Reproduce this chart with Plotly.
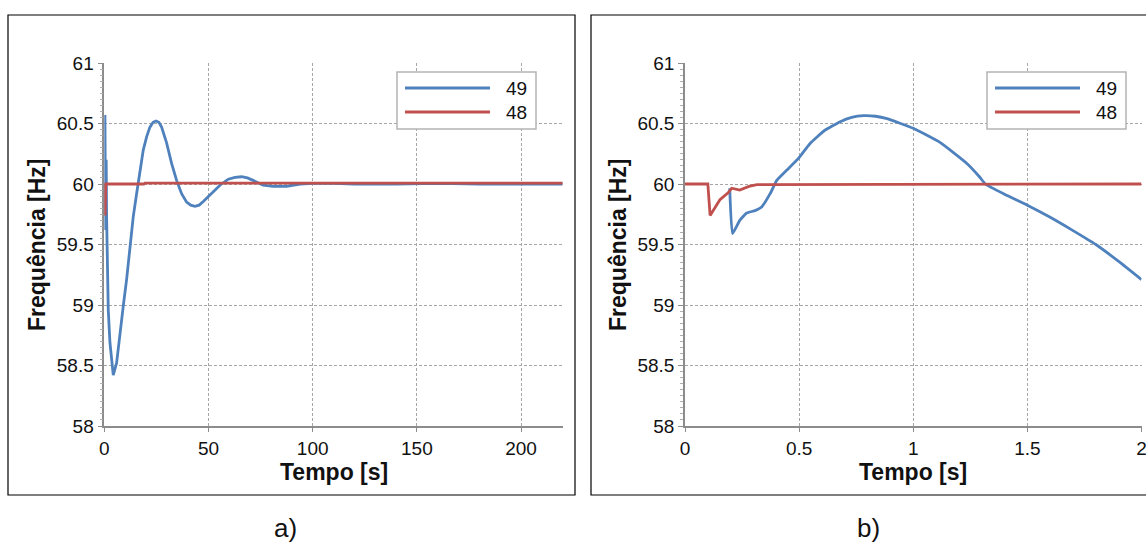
import plotly.graph_objects as go

W, H = 1146, 543

# ---------------- data ----------------
# Panel a) : 0-220 s
t49_a = [0, 0.3, 0.6, 0.9, 1.1, 1.9, 2.7, 3.5, 4.3, 5.9, 7.5, 9.1, 10.7, 12.3, 13.9,
         15.5, 17.1, 18.7, 20.3, 21.9, 23.4, 24.8, 26.2, 27.5, 29.9, 32.3, 34.7,
         37.1, 39.5, 41.5, 43.5, 45.5, 47.5, 51.5, 55.5, 59.5, 62.7, 65.9, 68.7,
         71.4, 76.2, 81.0, 87.4, 94, 100, 110, 120, 140, 160, 180, 200, 220]
f49_a = [60.0, 60.57, 59.62, 60.2, 59.74, 58.96, 58.69, 58.52, 58.42, 58.52, 58.77,
         58.99, 59.21, 59.48, 59.73, 59.92, 60.115, 60.28, 60.39, 60.47, 60.51, 60.52,
         60.51, 60.47, 60.34, 60.17, 60.03, 59.92, 59.85, 59.825, 59.815, 59.825,
         59.855, 59.92, 59.99, 60.04, 60.055, 60.06, 60.05, 60.03, 59.99, 59.98,
         59.98, 60.0, 60.005, 60.005, 60.0, 60.0, 60.005, 60.0, 60.0, 60.0]

t48_a = [0, 0.2, 0.4, 0.7, 19.0, 19.5, 220]
f48_a = [60.0, 60.0, 59.74, 60.0, 60.0, 60.008, 60.008]

# Panel b) : 0-2 s
t49_b = [0.196, 0.208, 0.24, 0.27, 0.307, 0.336, 0.373, 0.402, 0.446, 0.496,
         0.548, 0.61, 0.68, 0.73, 0.782, 0.835, 0.885, 1.0, 1.12, 1.235, 1.29,
         1.316, 1.4, 1.5, 1.6, 1.7, 1.8, 1.9, 2.0]
f49_b = [59.965, 59.59, 59.70, 59.76, 59.78, 59.81, 59.92, 60.03, 60.115,
         60.21, 60.335, 60.44, 60.515, 60.55, 60.565, 60.56, 60.54, 60.46, 60.34,
         60.17, 60.06, 60.0, 59.915, 59.825, 59.725, 59.615, 59.5, 59.36, 59.21]

t48_b = [0, 0.1, 0.11, 0.153, 0.19, 0.205, 0.24, 0.28, 0.315, 2.0]
f48_b = [60.0, 60.0, 59.74, 59.87, 59.93, 59.965, 59.95, 59.98, 59.995, 60.0]

series_names = ["49", "48"]
x_ticks_a = [0, 50, 100, 150, 200]
x_ticks_b = [0, 0.5, 1, 1.5, 2]
y_ticks = [58, 58.5, 59, 59.5, 60, 60.5, 61]
x_title = "Tempo [s]"
y_title = "Frequência [Hz]"
panel_labels = ["a)", "b)"]

# ---------------- style ----------------
BLUE = "#4F81BD"
RED = "#C0504D"
GRID = "#a6a6a6"
AXIS = "#8c8c8c"
FONT = "Liberation Sans, Arial, sans-serif"
TXT = "#111"


def px(x):
    return x / W


def py(y):
    return 1 - y / H


fig = go.Figure()
fig.add_trace(go.Scatter(x=t49_a, y=f49_a, mode="lines", name=series_names[0],
                         line=dict(color=BLUE, width=2.8), xaxis="x", yaxis="y",
                         showlegend=False))
fig.add_trace(go.Scatter(x=t48_a, y=f48_a, mode="lines", name=series_names[1],
                         line=dict(color=RED, width=2.8), xaxis="x", yaxis="y",
                         showlegend=False))
fig.add_trace(go.Scatter(x=t49_b, y=f49_b, mode="lines", name=series_names[0],
                         line=dict(color=BLUE, width=2.8, shape="spline", smoothing=0.4),
                         xaxis="x2", yaxis="y2", showlegend=False))
fig.add_trace(go.Scatter(x=t48_b, y=f48_b, mode="lines", name=series_names[1],
                         line=dict(color=RED, width=2.8), xaxis="x2", yaxis="y2",
                         showlegend=False))

ydom = [py(426), py(63)]

common_x = dict(showgrid=True, gridcolor=GRID, griddash="3px,2px", gridwidth=1,
                showline=True, linecolor=AXIS, linewidth=1.5, ticks="outside",
                ticklen=4, tickcolor=AXIS, zeroline=False, automargin=False,
                ticklabeloverflow="allow",
                tickfont=dict(family=FONT, size=19, color=TXT))
common_y = dict(showgrid=True, gridcolor=GRID, griddash="3px,2px", gridwidth=1,
                showline=True, linecolor=AXIS, linewidth=1.5, ticks="outside",
                ticklen=5, tickcolor=AXIS, zeroline=False, range=[58, 61],
                automargin=False,
                tickvals=y_ticks, ticktext=[f"{v:g}" for v in y_ticks],
                minor=dict(ticks="outside", ticklen=3, dtick=0.05, tickcolor="#b0b0b0",
                           showgrid=False),
                tickfont=dict(family=FONT, size=19, color=TXT))

fig.update_layout(
    width=W, height=H,
    margin=dict(l=0, r=0, t=0, b=0, pad=0, autoexpand=False),
    paper_bgcolor="white", plot_bgcolor="white",
    xaxis=dict(domain=[px(104.3), px(562.7)], range=[0, 220], tickvals=x_ticks_a,
               anchor="y", **common_x),
    yaxis=dict(domain=ydom, anchor="x", **common_y),
    xaxis2=dict(domain=[px(685), px(1141.5)], range=[0, 2], tickvals=x_ticks_b,
                ticktext=[f"{v:g}" for v in x_ticks_b], anchor="y2", **common_x),
    yaxis2=dict(domain=ydom, anchor="x2", **common_y),
)

shapes = []
annotations = []

# panel frames
shapes.append(dict(type="rect", xref="paper", yref="paper", x0=px(8), x1=px(575),
                   y0=py(495), y1=py(15), line=dict(color="black", width=1.2)))
shapes.append(dict(type="rect", xref="paper", yref="paper", x0=px(591), x1=px(1160),
                   y0=py(495), y1=py(15), line=dict(color="black", width=1.2)))

# legends (one per panel)
for dx in (0, 590):
    shapes.append(dict(type="rect", xref="paper", yref="paper",
                       x0=px(397 + dx), x1=px(536 + dx), y0=py(129), y1=py(72),
                       line=dict(color="#b4b4b4", width=1.5), fillcolor="white",
                       layer="above"))
    for name, col, yy in ((series_names[0], BLUE, 88), (series_names[1], RED, 112)):
        shapes.append(dict(type="line", xref="paper", yref="paper",
                           x0=px(405 + dx), x1=px(490 + dx), y0=py(yy), y1=py(yy),
                           line=dict(color=col, width=3), layer="above"))
        annotations.append(dict(text=name, xref="paper", yref="paper",
                                x=px(516 + dx), y=py(yy), showarrow=False,
                                xanchor="center", yanchor="middle",
                                font=dict(family=FONT, size=19, color=TXT)))

# axis titles
for cx, cy in ((334, 472), (913, 472)):
    annotations.append(dict(text=f"<b>{x_title}</b>", xref="paper", yref="paper",
                            x=px(cx), y=py(cy), showarrow=False, xanchor="center",
                            yanchor="middle",
                            font=dict(family=FONT, size=23, color=TXT)))
for cx in (37, 618):
    annotations.append(dict(text=f"<b>{y_title}</b>", xref="paper", yref="paper",
                            x=px(cx), y=py(245), showarrow=False, textangle=-90,
                            xanchor="center", yanchor="middle",
                            font=dict(family=FONT, size=23, color=TXT)))

# panel labels
for lab, cx in zip(panel_labels, (285, 868)):
    annotations.append(dict(text=lab, xref="paper", yref="paper", x=px(cx), y=py(528),
                            showarrow=False, xanchor="center", yanchor="middle",
                            font=dict(family=FONT, size=26, color=TXT)))

fig.update_layout(shapes=shapes, annotations=annotations)
fig.write_html("out.html",
               post_script="document.body.style.margin='0';"
                           "document.body.style.overflow='hidden';")
